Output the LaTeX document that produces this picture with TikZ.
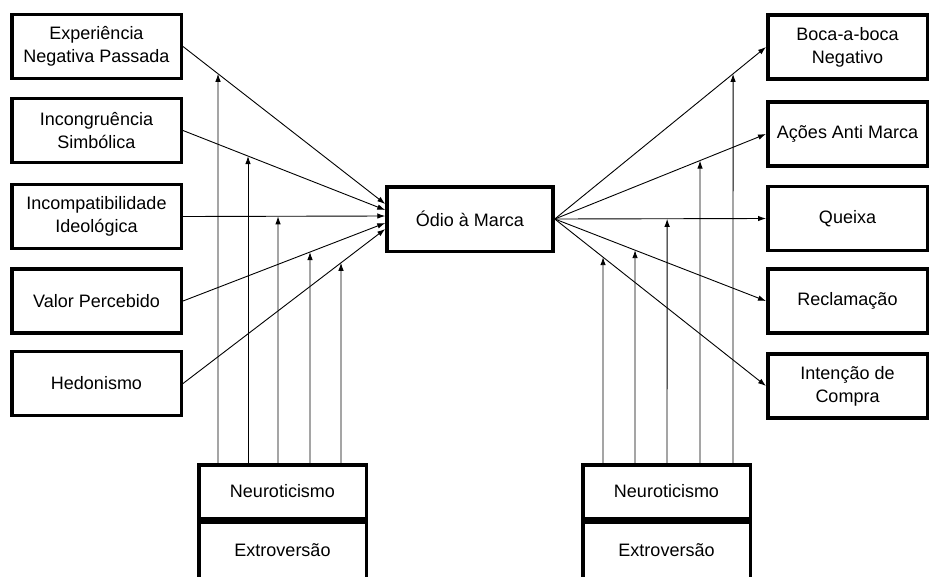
\documentclass[tikz,border=0pt]{standalone}
\usepackage{fontspec}
\setmainfont{Liberation Sans}
\usepackage{tikz}
\usetikzlibrary{arrows.meta}

\begin{document}
\begin{tikzpicture}[x=1pt,y=-1pt,
  box/.style={draw,line width=3.5pt,align=center,font=\fontsize{18}{23}\selectfont,inner sep=2pt},
  lbox/.style={box,minimum width=169.5pt,minimum height=64pt},
  rbox/.style={box,minimum width=159.5pt,minimum height=64pt},
  bbox/.style={box,minimum width=167.5pt,minimum height=53.5pt},
  >={Latex[length=8pt,width=5.5pt]}, line width=0.9pt]
  \useasboundingbox (0,0) rectangle (931,576);

  % antecedentes
  \node[lbox] (ep) at (96.5,46.5) {Experiência\\Negativa Passada};
  \node[lbox] (is) at (96.5,130.5) {Incongruência\\Simbólica};
  \node[lbox] (ii) at (96.5,216.5) {Incompatibilidade\\Ideológica};
  \node[lbox] (vp) at (96.5,301) {Valor Percebido};
  \node[lbox] (hd) at (96.5,383.5) {Hedonismo};

  % centro
  \node[box,minimum width=166pt,minimum height=64.5pt] (odio) at (470,219) {Ódio à Marca};
  \coordinate (t1) at ([yshift=15pt]odio.west);
  \coordinate (t2) at ([yshift=9pt]odio.west);
  \coordinate (t3) at ([yshift=3pt]odio.west);
  \coordinate (t4) at ([yshift=-4pt]odio.west);
  \coordinate (t5) at ([yshift=-10pt]odio.west);

  % consequencias
  \node[rbox] (bb) at (847.5,47) {Boca-a-boca\\Negativo};
  \node[rbox] (aa) at (847.5,134) {Ações Anti Marca};
  \node[rbox] (qx) at (847.5,218.5) {Queixa};
  \node[rbox] (rc) at (847.5,301) {Reclamação};
  \node[rbox] (ic) at (847.5,386) {Intenção de\\Compra};

  % moderadores
  \node[bbox] (ne1) at (282.5,491.5) {Neuroticismo};
  \node[bbox,anchor=north,minimum height=64pt,text depth=8pt] (ex1) at (ne1.south) {Extroversão};
  \node[bbox] (ne2) at (666.5,491.5) {Neuroticismo};
  \node[bbox,anchor=north,minimum height=64pt,text depth=8pt] (ex2) at (ne2.south) {Extroversão};

  \draw[->] (ep.east) -- (t1);
  \draw[->] (is.east) -- (t2);
  \draw[->] (ii.east) -- (t3);
  \draw[->] (vp.east) -- (t4);
  \draw[->] (hd.east) -- (t5);

  \draw[->] (odio.east) -- (bb.west);
  \draw[->] (odio.east) -- (aa.west);
  \draw[->] (odio.east) -- (qx.west);
  \draw[->] (odio.east) -- (rc.west);
  \draw[->] (odio.east) -- (ic.west);

  % moderacao, lado esquerdo
  \draw[->] (218,0 |- ne1.north) -- (intersection of ep.east--t1 and 218,0--218,500);
  \draw[->] (248,0 |- ne1.north) -- (intersection of is.east--t2 and 248,0--248,500);
  \draw[->] (278,0 |- ne1.north) -- (intersection of ii.east--t3 and 278,0--278,500);
  \draw[->] (310,0 |- ne1.north) -- (intersection of vp.east--t4 and 310,0--310,500);
  \draw[->] (341,0 |- ne1.north) -- (intersection of hd.east--t5 and 341,0--341,500);
  % moderacao, lado direito
  \draw[->] (603,0 |- ne2.north) -- (intersection of odio.east--ic.west and 603,0--603,500);
  \draw[->] (635,0 |- ne2.north) -- (intersection of odio.east--rc.west and 635,0--635,500);
  \draw[->] (667,0 |- ne2.north) -- (intersection of odio.east--qx.west and 667,0--667,500);
  \draw[->] (700,0 |- ne2.north) -- (intersection of odio.east--aa.west and 700,0--700,500);
  \draw[->] (733,0 |- ne2.north) -- (intersection of odio.east--bb.west and 733,0--733,500);
\end{tikzpicture}
\end{document}
